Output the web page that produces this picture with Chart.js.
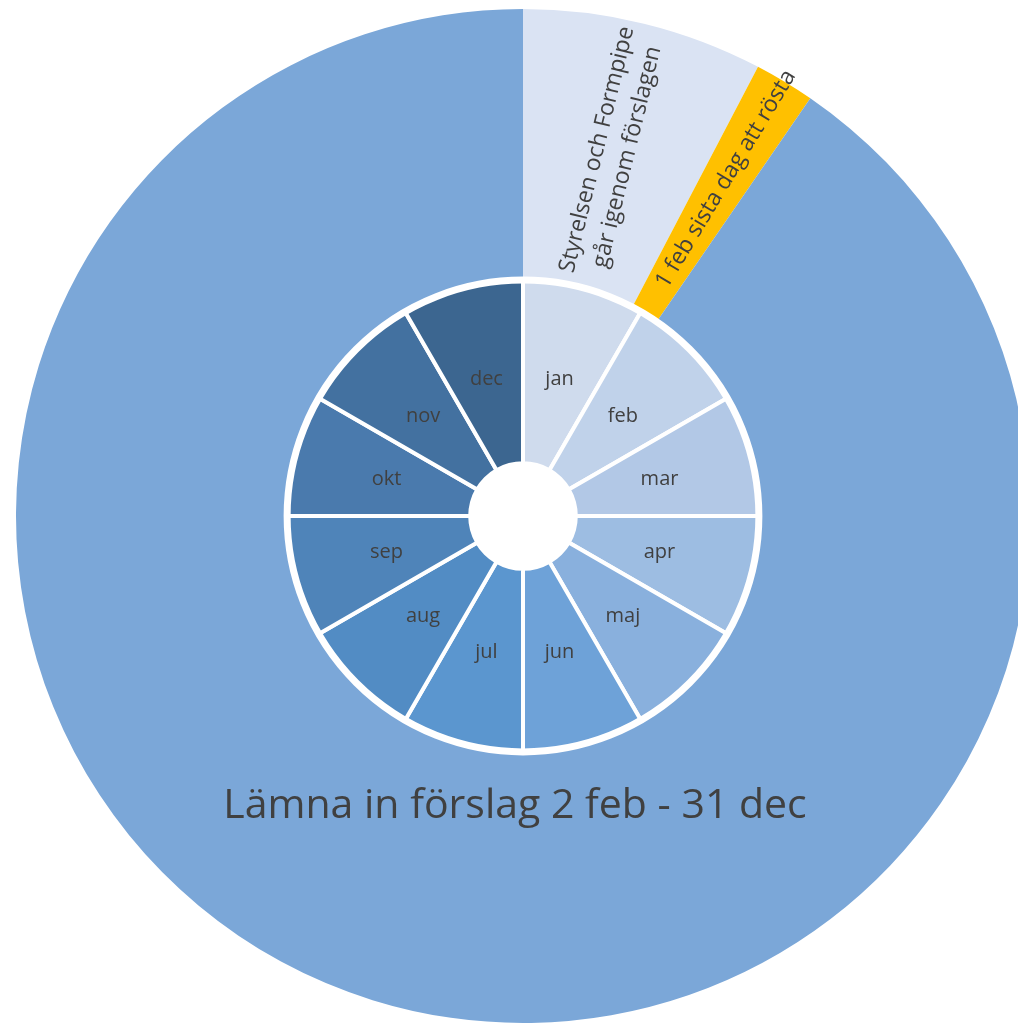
<!DOCTYPE html>
<html>
<head>
<meta charset="utf-8">
<script src="https://cdn.jsdelivr.net/npm/chart.js@4/dist/chart.umd.min.js"></script>
<style>
    html, body { margin: 0; padding: 0; background: #fff; overflow: hidden; }
    #wrap { position: absolute; left: 14px; top: 7px; width: 1018px; height: 1018px; }
</style>
</head>
<body>
<div id="wrap"><canvas id="chart-year" width="1018" height="1018"></canvas></div>
<script>
/* ============================================
   Årshjul - data
   ============================================ */

// Outer ring: periods of the year, in days
const periodLabels = [
    ['Styrelsen och Formpipe', 'går igenom förslagen'],
    ['1 feb sista dag att rösta'],
    ['Lämna in förslag 2 feb - 31 dec']
];
const periodDays = [28, 7, 330];
const periodColors = ['#dae3f3', '#ffc000', '#7ba7d8'];

// Inner ring: months
const monthLabels = ['jan', 'feb', 'mar', 'apr', 'maj', 'jun', 'jul', 'aug', 'sep', 'okt', 'nov', 'dec'];
const monthValues = [1, 1, 1, 1, 1, 1, 1, 1, 1, 1, 1, 1];
const monthColors = [
    '#cfdbed', '#c0d2ea', '#b2c8e6', '#9dbde2', '#89b0dd', '#6ea2d8',
    '#5b96cf', '#528cc4', '#4f84b9', '#4a7aad', '#4371a0', '#3c6690'
];

const TEXT_COLOR = '#404040';
const FONT = "'Open Sans', 'Noto Sans', sans-serif";

// Draws the white ring between the rings plus all the text
const ringLabels = {
    id: 'ringLabels',
    afterDatasetsDraw(chart) {
        const ctx = chart.ctx;
        const outerArcs = chart.getDatasetMeta(0).data;
        const innerArcs = chart.getDatasetMeta(1).data;

        // white gap between the two rings
        const first = innerArcs[0].getProps(['x', 'y', 'outerRadius'], true);
        ctx.save();
        ctx.beginPath();
        ctx.arc(first.x, first.y, first.outerRadius, 0, Math.PI * 2);
        ctx.strokeStyle = '#ffffff';
        ctx.lineWidth = 7;
        ctx.stroke();
        ctx.restore();

        ctx.save();
        ctx.fillStyle = TEXT_COLOR;
        ctx.textAlign = 'center';
        ctx.textBaseline = 'middle';

        // month labels, horizontal in the middle of each slice
        ctx.font = '20px ' + FONT;
        innerArcs.forEach((arc, i) => {
            const p = arc.getProps(['x', 'y', 'startAngle', 'endAngle', 'innerRadius', 'outerRadius'], true);
            const mid = (p.startAngle + p.endAngle) / 2;
            const r = (p.innerRadius + p.outerRadius) / 2 - 3;
            ctx.fillText(monthLabels[i], p.x + Math.cos(mid) * r, p.y + Math.sin(mid) * r);
        });

        // period labels, rotated along the radius
        outerArcs.forEach((arc, i) => {
            const p = arc.getProps(['x', 'y', 'startAngle', 'endAngle', 'innerRadius', 'outerRadius'], true);
            const lines = periodLabels[i];
            if (i === 2) {
                // big period: horizontal text below the month ring
                ctx.font = '41px ' + FONT;
                ctx.fillText(lines[0], p.x - 8, p.y + 290);
                return;
            }
            const mid = (p.startAngle + p.endAngle) / 2;
            const r = (p.innerRadius + p.outerRadius) / 2 + (i === 1 ? 22 : 2);
            ctx.save();
            ctx.translate(p.x + Math.cos(mid) * r, p.y + Math.sin(mid) * r);
            ctx.rotate(mid);
            ctx.font = '23px ' + FONT;
            const lh = 31;
            lines.forEach((line, j) => {
                ctx.fillText(line, 0, (j - (lines.length - 1) / 2) * lh);
            });
            ctx.restore();
        });
        ctx.restore();
    }
};

const ctx = document.getElementById('chart-year').getContext('2d');
new Chart(ctx, {
    type: 'doughnut',
    data: {
        labels: monthLabels,
        datasets: [
            {
                label: 'Perioder',
                data: periodDays,
                backgroundColor: periodColors,
                borderWidth: 0,
                hoverOffset: 0,
                weight: 271
            },
            {
                label: 'Månader',
                data: monthValues,
                backgroundColor: monthColors,
                borderColor: '#ffffff',
                borderWidth: 4,
                hoverOffset: 0,
                weight: 183
            }
        ]
    },
    options: {
        responsive: false,
        devicePixelRatio: 1,
        animation: false,
        radius: 507,
        cutout: 53,
        layout: { padding: 0 },
        plugins: {
            legend: { display: false },
            tooltip: { enabled: false }
        }
    },
    plugins: [ringLabels]
});
</script>
</body>
</html>
